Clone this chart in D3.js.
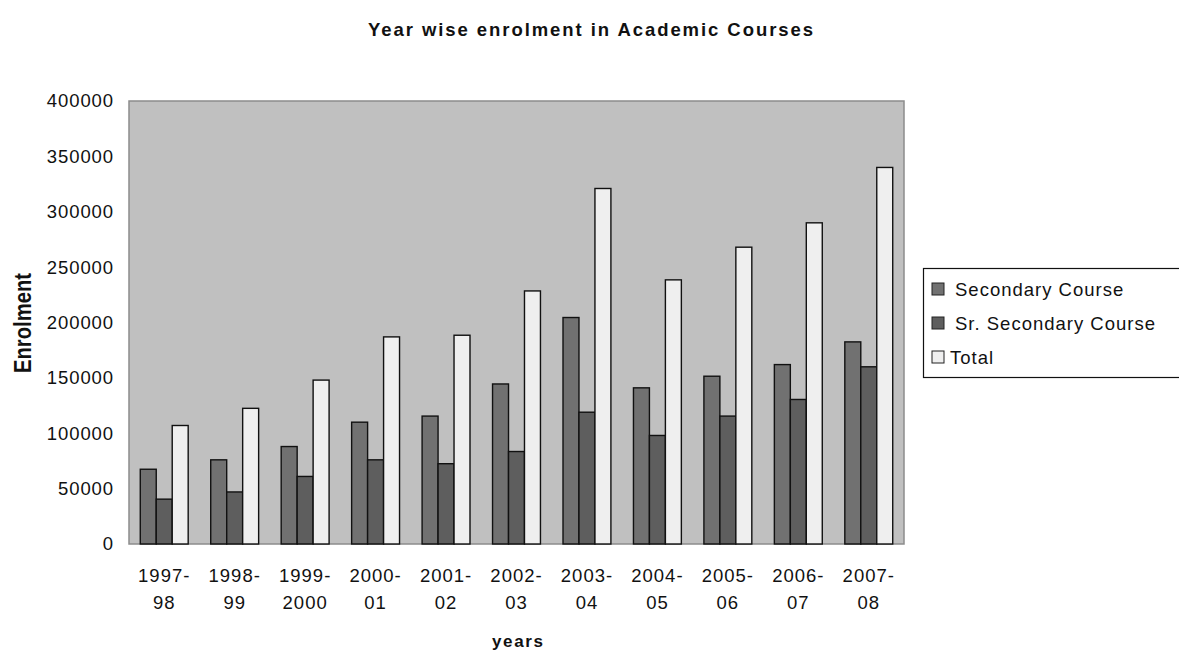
<!DOCTYPE html>
<html><head><meta charset="utf-8">
<script src="https://cdn.jsdelivr.net/npm/d3@7"></script>
<style>body{margin:0;background:#fff}svg{display:block}text{font-family:"Liberation Sans",Arial,sans-serif}</style>
</head><body><svg id="c" width="1179" height="653"></svg>
<script>
const categories = [["1997-","98"],["1998-","99"],["1999-","2000"],["2000-","01"],["2001-","02"],["2002-","03"],["2003-","04"],["2004-","05"],["2005-","06"],["2006-","07"],["2007-","08"]];
const seriesNames = ["Secondary Course","Sr. Secondary Course","Total"];
const secondary = [67500,76000,88000,110000,115500,144500,204500,141000,151500,162000,182500];
const srSecondary = [40500,47000,61000,76000,72500,83500,119000,98000,115500,130500,160000];
const total = [107000,122500,148000,187000,188500,228500,321000,238500,268000,290000,340000];
const yTicks = [0,50000,100000,150000,200000,250000,300000,350000,400000];
const colors = ["#717171","#5e5e5e","#efefef"];

const svg = d3.select("#c");
const L=129, R=904, T=101, B=544;
const labels = categories.map(c=>c.join(""));
const x = d3.scaleBand().domain(labels).range([L,R]).paddingInner(0.32).paddingOuter(0.16);
const y = d3.scaleLinear().domain([0,400000]).range([B,T]);
const xs = d3.scaleBand().domain(seriesNames).range([0,x.bandwidth()]);

svg.append("rect").attr("x",L).attr("y",T).attr("width",R-L).attr("height",B-T)
  .attr("fill","#c0c0c0").attr("stroke","#8c8c8c").attr("stroke-width",1.5);

const data = [secondary,srSecondary,total];
seriesNames.forEach((s,si)=>{
  svg.append("g").selectAll("rect").data(data[si]).join("rect")
    .attr("x",(d,i)=>x(labels[i])+xs(s))
    .attr("y",d=>y(d))
    .attr("width",xs.bandwidth())
    .attr("height",d=>B-y(d))
    .attr("fill",colors[si]).attr("stroke","#111").attr("stroke-width",1.4);
});

// y axis labels
const ya = svg.append("g").attr("transform",`translate(${L},0)`)
  .call(d3.axisLeft(y).tickValues(yTicks).tickFormat(d3.format("d")).tickSize(0).tickPadding(15));
ya.select(".domain").remove();
ya.selectAll("text").attr("font-size",18.5).attr("letter-spacing",0.9).attr("fill","#111")
  .style("font-family","'Liberation Sans',Arial,sans-serif");

// x axis labels
const xa = svg.append("g").attr("transform",`translate(0,${B})`)
  .call(d3.axisBottom(x).tickSize(0).tickFormat(()=>""));
xa.select(".domain").remove();
xa.selectAll(".tick").each(function(d,i){
  const t = d3.select(this).append("text").attr("fill","#111").attr("font-size",18.5)
    .attr("letter-spacing",1).attr("text-anchor","middle");
  t.append("tspan").attr("x",0).attr("y",38).text(categories[i][0]);
  t.append("tspan").attr("x",0).attr("y",65).text(categories[i][1]);
});

svg.append("text").attr("x",368).attr("y",36)
  .attr("font-size",18.5).attr("font-weight","bold").attr("fill","#111")
  .attr("textLength",445).attr("lengthAdjust","spacing")
  .text("Year wise enrolment in Academic Courses");
svg.append("text").attr("x",492).attr("y",647)
  .attr("font-size",17).attr("font-weight","bold").attr("fill","#111")
  .attr("textLength",51).attr("lengthAdjust","spacing").text("years");
svg.append("text").attr("transform","translate(31,373) rotate(-90)")
  .attr("font-size",23).attr("font-weight","bold").attr("fill","#111")
  .attr("textLength",100).attr("lengthAdjust","spacingAndGlyphs").text("Enrolment");

// legend
const lg = svg.append("g");
lg.append("rect").attr("x",923.5).attr("y",268.5).attr("width",260).attr("height",109)
  .attr("fill","#fff").attr("stroke","#111").attr("stroke-width",1.2);
seriesNames.forEach((s,i)=>{
  const yy = 296 + i*34;
  lg.append("rect").attr("x",932).attr("y",yy-13).attr("width",12).attr("height",12)
    .attr("fill",colors[i]).attr("stroke","#222").attr("stroke-width",1);
  lg.append("text").attr("x",i==2?950:955).attr("y",yy).attr("font-size",18.5)
    .attr("letter-spacing",1).attr("fill","#111").text(s);
});
</script></body></html>
